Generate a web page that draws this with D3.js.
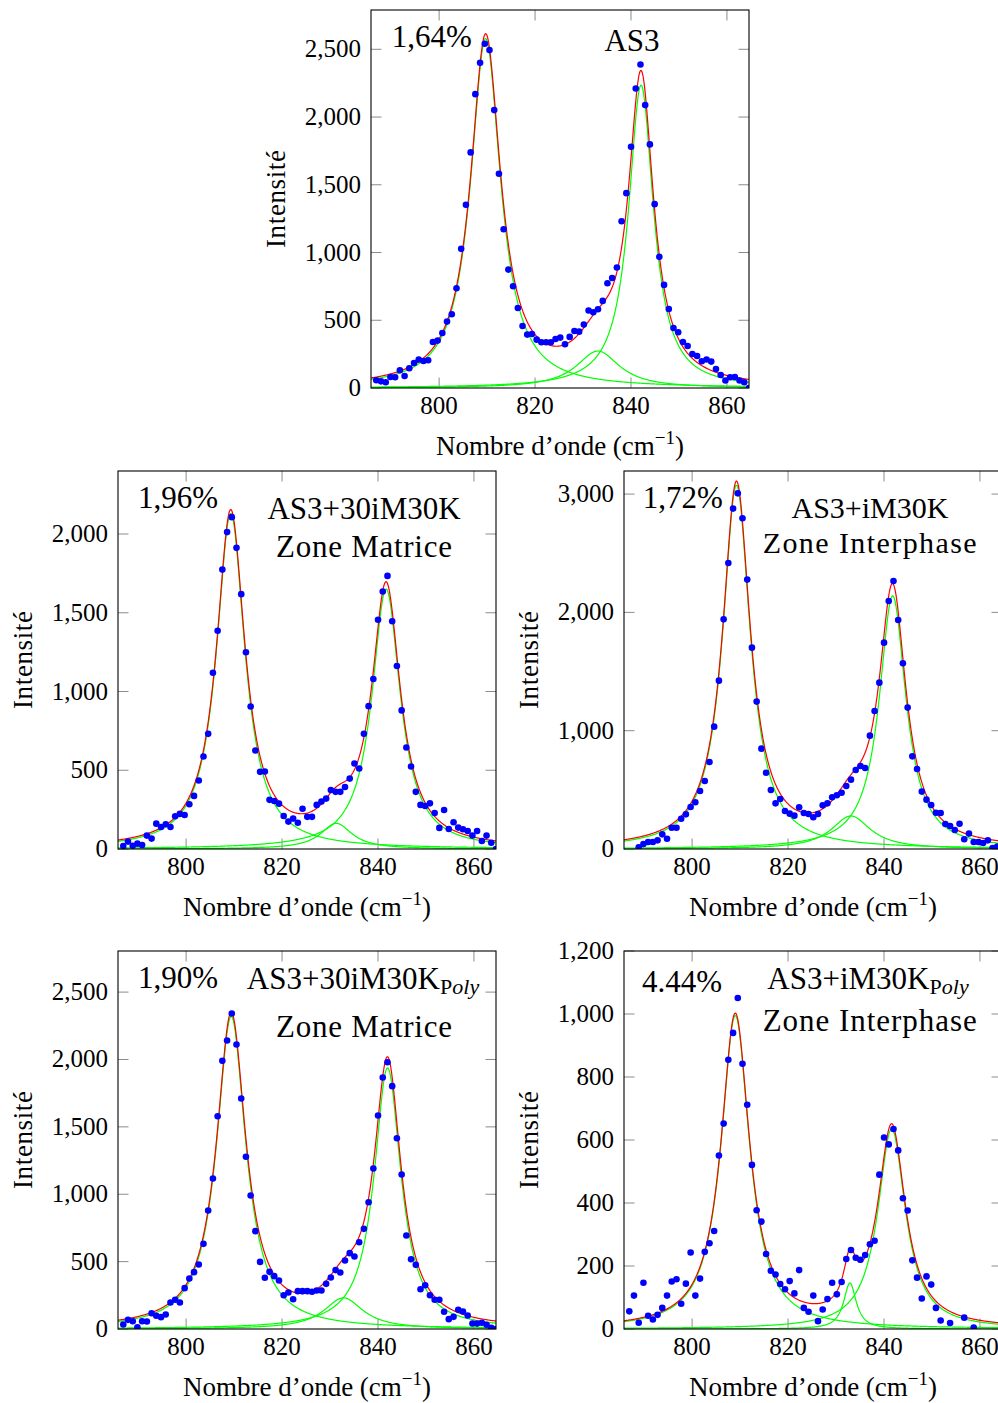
<!DOCTYPE html>
<html><head><meta charset="utf-8">
<script src="https://cdn.jsdelivr.net/npm/d3@7"></script>
<style>
body{margin:0;background:#fff}
svg{display:block}
text{font-family:"Liberation Serif","Times New Roman",serif;fill:#000}
</style>
</head><body>
<svg id="chart" width="998" height="1403"></svg>
<script>
// ---------- DATA ----------
const wavenumbers = [786.90,787.88,788.87,789.85,790.83,791.82,792.80,793.78,794.77,795.75,
796.74,797.72,798.70,799.69,800.67,801.65,802.64,803.62,804.60,805.59,
806.57,807.55,808.54,809.52,810.50,811.49,812.47,813.45,814.44,815.42,
816.41,817.39,818.37,819.36,820.34,821.32,822.31,823.29,824.27,825.26,
826.24,827.22,828.21,829.19,830.17,831.16,832.14,833.12,834.11,835.09,
836.08,837.06,838.04,839.03,840.01,840.99,841.98,842.96,843.94,844.93,
845.91,846.89,847.88,848.86,849.84,850.83,851.81,852.79,853.78,854.76,
855.75,856.73,857.71,858.70,859.68,860.66,861.65,862.63,863.61,864.60];

const intensityAS3 = [57,49,42,81,79,131,89,146,185,210,
199,205,340,350,406,490,544,736,1027,1352,
1739,2169,2400,2541,2494,2051,1581,1172,874,751,
591,458,394,399,357,338,338,338,362,372,
323,377,421,416,468,572,559,581,643,773,
812,889,1231,1438,1780,2211,2388,2088,1798,1357,
968,761,583,443,411,340,310,251,236,197,
210,195,140,96,55,79,81,55,42,0];

const intensityMatrice = [19,47,21,34,25,85,66,161,140,157,
140,208,223,216,284,337,435,587,731,1119,
1386,1774,2012,2107,1912,1618,1249,905,625,490,
492,312,305,288,210,174,193,167,256,204,
204,280,301,320,375,363,363,394,447,543,
511,731,907,1079,1456,1635,1734,1446,1162,880,
644,524,363,280,273,290,229,134,248,127,
170,136,125,114,85,114,51,85,40,0];

const intensityInterphase = [null,null,14,42,59,59,73,124,87,180,
180,256,293,355,395,490,575,735,1034,1423,
1941,2418,2877,3006,2795,2277,1702,1246,848,645,
499,386,423,321,299,282,352,304,296,268,
296,369,386,437,454,476,533,586,668,702,
685,958,1167,1406,1744,2096,2265,1936,1570,1195,
783,676,485,417,372,307,304,211,194,161,
214,82,130,59,59,51,73,8,20,null];

const intensityMatricePoly = [33,68,58,13,58,56,117,98,88,108,
197,217,197,303,375,422,479,632,879,1117,
1579,1990,2141,2341,2111,1710,1278,991,726,498,
380,424,392,360,251,271,221,281,281,281,
276,286,286,335,382,437,419,508,563,538,
644,743,941,1191,1584,1866,1980,1802,1416,1146,
694,518,476,295,325,251,217,217,128,73,
90,142,130,100,41,40,46,31,9,0];

const intensityInterphasePoly = [56,106,20,147,42,30,45,67,106,151,
158,80,144,243,106,160,245,272,311,551,
652,855,940,1051,842,712,521,377,341,238,
185,173,143,126,152,113,187,67,55,106,
25,62,95,147,110,149,222,251,226,220,
235,269,280,490,608,586,635,567,415,376,
218,163,97,167,141,67,27,null,19,null,
null,36,null,5,null,null,null,null,null,null];

// Lorentzian fit parameters (centre, height, half width)
const fitCentersAS3 = [809.7, 842.1, 833.1];
const fitHeightsAS3 = [2580, 2235, 273];
const fitWidthsAS3 = [3.8, 3.15, 5.5];

const fitCentersMatrice = [809.3, 841.7, 831.3];
const fitHeightsMatrice = [2130, 1650, 163];
const fitWidthsMatrice = [3.6, 3.6, 4.0];

const fitCentersInterphase = [809.25, 841.8, 833.1];
const fitHeightsInterphase = [3075, 2140, 279];
const fitWidthsInterphase = [3.5, 3.4, 5.0];

const fitCentersMatricePoly = [809.4, 842.0, 832.8];
const fitHeightsMatricePoly = [2320, 1938, 231];
const fitWidthsMatricePoly = [3.7, 3.4, 5.0];

const fitCentersInterphasePoly = [809.0, 841.6, 832.9];
const fitHeightsInterphasePoly = [995, 635, 146];
const fitWidthsInterphasePoly = [3.6, 3.5, 1.6];

const xDomain = [785.8, 864.6];
const xTicks = [800, 820, 840, 860];
const yTicksAS3 = [0, 500, 1000, 1500, 2000, 2500];
const yTicksMatrice = [0, 500, 1000, 1500, 2000];
const yTicksInterphase = [0, 1000, 2000, 3000];
const yTicksMatricePoly = [0, 500, 1000, 1500, 2000, 2500];
const yTicksInterphasePoly = [0, 200, 400, 600, 800, 1000, 1200];

const percentLabels = ["1,64%", "1,96%", "1,72%", "1,90%", "4.44%"];
const xLabel = "Nombre d\u2019onde (cm";
const yLabel = "Intensit\u00e9";

// ---------- LAYOUT ----------
const W = 378, H = 378;
const panels = [
  {left:371, top:10, yMax:2790, y:intensityAS3, yTicks:yTicksAS3,
   c:fitCentersAS3, h:fitHeightsAS3, w:fitWidthsAS3, pct:percentLabels[0],
   pctPos:[20.7,37.3], titles:[{main:"AS3", x:261, y:40.7}]},
  {left:118, top:471, yMax:2400, y:intensityMatrice, yTicks:yTicksMatrice,
   c:fitCentersMatrice, h:fitHeightsMatrice, w:fitWidthsMatrice, pct:percentLabels[1],
   pctPos:[20,37], titles:[{main:"AS3+30iM30K", x:246, y:48.3},{main:"Zone Matrice", x:246, y:86.3, len:176}]},
  {left:624, top:471, yMax:3195, y:intensityInterphase, yTicks:yTicksInterphase,
   c:fitCentersInterphase, h:fitHeightsInterphase, w:fitWidthsInterphase, pct:percentLabels[2],
   pctPos:[18.7,37.3], titles:[{main:"AS3+iM30K", x:246, y:46.5, fs:30},{main:"Zone Interphase", x:245.7, y:81.5, len:214, fs:30}]},
  {left:118, top:951, yMax:2805, y:intensityMatricePoly, yTicks:yTicksMatricePoly,
   c:fitCentersMatricePoly, h:fitHeightsMatricePoly, w:fitWidthsMatricePoly, pct:percentLabels[3],
   pctPos:[20,36.7], titles:[{main:"AS3+30iM30K", sub:true, x:245, y:38.3},{main:"Zone Matrice", x:246, y:86.3, len:176}]},
  {left:624, top:951, yMax:1200, y:intensityInterphasePoly, yTicks:yTicksInterphasePoly,
   c:fitCentersInterphasePoly, h:fitHeightsInterphasePoly, w:fitWidthsInterphasePoly, pct:percentLabels[4],
   pctPos:[18,40.7], titles:[{main:"AS3+iM30K", sub:true, x:244, y:38.3},{main:"Zone Interphase", x:245.7, y:79.7, len:214}]}
];

const svg = d3.select("#chart");
const fmt = d3.format(",");
const TICK = 10.5;

function lorentz(x, c, h, w) { return h * w * w / ((x - c) * (x - c) + w * w); }

panels.forEach((p, pi) => {
  const g = svg.append("g").attr("transform", `translate(${p.left},${p.top})`);
  const x = d3.scaleLinear().domain(xDomain).range([0, W]);
  const y = d3.scaleLinear().domain([0, p.yMax]).range([H, 0]);

  const clipId = "clip" + pi;
  g.append("clipPath").attr("id", clipId).append("rect").attr("width", W).attr("height", H);

  // ticks (inside, all four sides)
  const tg = g.append("g").attr("stroke", "#8c8c8c").attr("stroke-width", 1);
  xTicks.forEach(t => {
    tg.append("line").attr("x1", x(t)).attr("x2", x(t)).attr("y1", H).attr("y2", H - TICK);
    tg.append("line").attr("x1", x(t)).attr("x2", x(t)).attr("y1", 0).attr("y2", TICK);
  });
  p.yTicks.forEach(t => {
    tg.append("line").attr("y1", y(t)).attr("y2", y(t)).attr("x1", 0).attr("x2", TICK);
    tg.append("line").attr("y1", y(t)).attr("y2", y(t)).attr("x1", W).attr("x2", W - TICK);
  });

  const plot = g.append("g").attr("clip-path", `url(#${clipId})`);
  const xs = d3.range(xDomain[0], xDomain[1] + 0.05, 0.1);
  const line = d3.line().x(d => x(d[0])).y(d => y(d[1]));
  // components (green)
  p.c.forEach((c, k) => {
    plot.append("path").datum(xs.map(v => [v, lorentz(v, c, p.h[k], p.w[k])]))
      .attr("d", line).attr("fill", "none").attr("stroke", "#00ff00").attr("stroke-width", 1.2);
  });
  // total (red)
  plot.append("path").datum(xs.map(v => [v, d3.sum(p.c, (c, k) => lorentz(v, c, p.h[k], p.w[k]))]))
    .attr("d", line).attr("fill", "none").attr("stroke", "#ff0000").attr("stroke-width", 1.2);
  // data points
  const pts = wavenumbers.map((v, i) => [v, p.y[i]]).filter(d => d[1] !== null);
  plot.selectAll("circle").data(pts).join("circle")
    .attr("cx", d => x(d[0])).attr("cy", d => y(d[1])).attr("r", 3.3).attr("fill", "#0000ff");

  // frame
  g.append("rect").attr("width", W).attr("height", H).attr("fill", "none")
    .attr("stroke", "#000").attr("stroke-width", 1.1);

  // tick labels
  xTicks.forEach(t => g.append("text").attr("x", x(t)).attr("y", H + 26)
    .attr("text-anchor", "middle").attr("font-size", 25).text(t));
  p.yTicks.forEach(t => g.append("text").attr("x", -10).attr("y", y(t) + 8)
    .attr("text-anchor", "end").attr("font-size", 25).text(fmt(t)));

  // axis labels
  const xl = g.append("text").attr("x", W / 2).attr("y", H + 67).attr("text-anchor", "middle").attr("font-size", 27);
  xl.append("tspan").text(xLabel);
  xl.append("tspan").attr("font-size", 19).attr("dy", -11).text("\u22121");
  xl.append("tspan").attr("dy", 11).text(")");
  g.append("text").attr("transform", `translate(-86,${H / 2}) rotate(-90)`)
    .attr("text-anchor", "middle").attr("font-size", 27).attr("textLength", 98)
    .attr("lengthAdjust", "spacing").text(yLabel);

  // annotations
  g.append("text").attr("x", p.pctPos[0]).attr("y", p.pctPos[1]).attr("font-size", 31).text(p.pct);
  p.titles.forEach(t => {
    const tt = g.append("text").attr("x", t.x).attr("y", t.y).attr("text-anchor", "middle")
      .attr("font-size", t.fs || 31);
    if (t.len) tt.attr("textLength", t.len).attr("lengthAdjust", "spacing");
    tt.append("tspan").text(t.main);
    if (t.sub) {
      tt.append("tspan").attr("font-size", 22).attr("dy", 5).text("P");
      tt.append("tspan").attr("font-size", 22).attr("font-style", "italic").text("oly");
    }
  });
});
</script>
</body></html>
